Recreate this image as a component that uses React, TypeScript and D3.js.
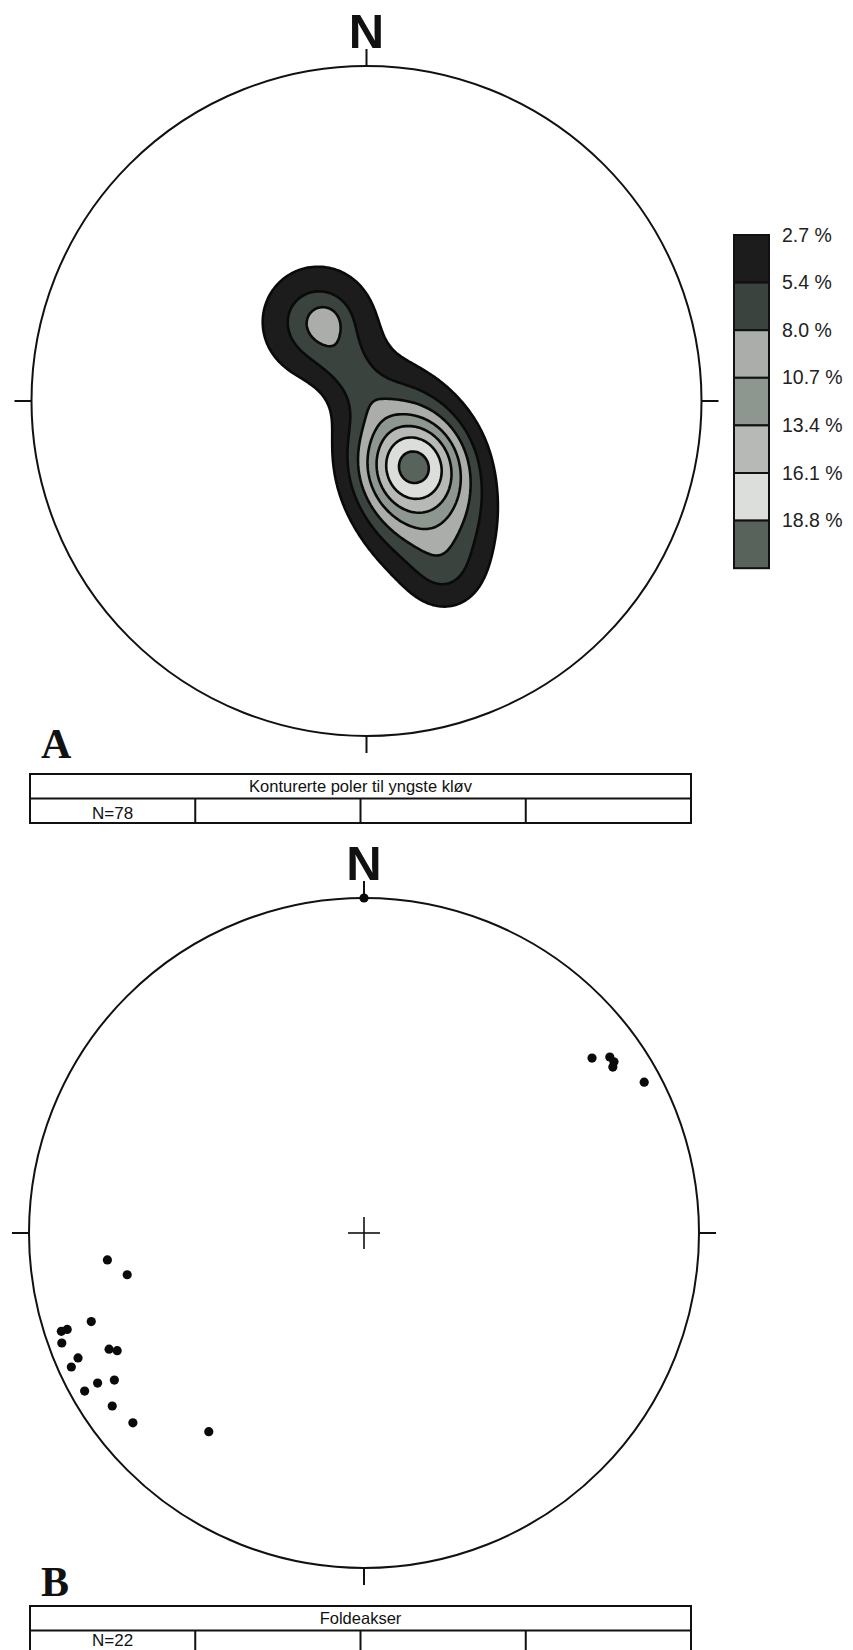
import React from 'react';
import * as d3 from 'd3';

const W = 853;
const H = 1650;

// ---- Diagram A: contoured poles (percentage levels) ----
const contourLevels = [2.7, 5.4, 8.0, 10.7, 13.4, 16.1, 18.8];
const levelLabels = ['2.7 %', '5.4 %', '8.0 %', '10.7 %', '13.4 %', '16.1 %', '18.8 %'];
const bandColors = ['#1c1c1c', '#3a433d', '#aaadaa', '#8e9690', '#b6b9b6', '#dcdedb', '#58635b'];

// density model components, net coordinates (east, north) in units of primitive radius
const compEast = [0.1418, 0.1478, -0.1448, -0.1239, -0.0493, 0.2343];
const compNorth = [-0.194, -0.2299, 0.2358, 0.2358, 0.0866, -0.5284];
const compAmp = [9, 11, 7, 2.6, 2.6, 2];
const compSigMajor = [0.0955, 0.2388, 0.1194, 0.0358, 0.1045, 0.0746];
const compSigMinor = [0.0955, 0.1493, 0.1194, 0.0358, 0.0537, 0.0746];
const compAzimuth = [0, 160, 0, 0, 145, 0];
const compShape = [1, 1.3, 1, 1, 1, 1];

const titleA = 'Konturerte poler til yngste kløv';
const countA = 'N=78';

// ---- Diagram B: fold axes (trend, plunge in degrees) ----
const foldTrend = [264, 260, 252, 252, 252, 250, 245.5, 244.5, 246.4, 245.4, 240.6, 239.5, 240.5, 235.5, 230.6, 218, 52.5, 54.4, 55.6, 56.3, 61.7, 0];
const foldPlunge = [24, 29, 15.5, 5.6, 7.6, 4.5, 17.5, 19.5, 7.6, 4.4, 9.6, 14.6, 4.7, 9.7, 11.7, 25.7, 15.3, 10.7, 10.5, 11.7, 5.6, 0];

const titleB = 'Foldeakser';
const countB = 'N=22';

const rad = Math.PI / 180;
function equalArea(trend: number, plunge: number): [number, number] {
  const r = Math.SQRT2 * Math.sin(((90 - plunge) / 2) * rad);
  return [r * Math.sin(trend * rad), r * Math.cos(trend * rad)];
}

function density(e: number, n: number): number {
  let s = 0;
  for (let k = 0; k < compAmp.length; k++) {
    const de = e - compEast[k];
    const dn = n - compNorth[k];
    const az = compAzimuth[k] * rad;
    const along = de * Math.sin(az) + dn * Math.cos(az);
    const perp = de * Math.cos(az) - dn * Math.sin(az);
    const q = (along * along) / (compSigMajor[k] ** 2) + (perp * perp) / (compSigMinor[k] ** 2);
    s += compAmp[k] * Math.exp(-0.5 * Math.pow(q, compShape[k]));
  }
  return s;
}

const R = 335;
const cxA = 366.5;
const cyA = 401;
const cxB = 364;
const cyB = 1233;
const tickLen = 17;

function Net({ cx, cy, cross }: { cx: number; cy: number; cross?: boolean }) {
  return (
    <g stroke="#111" fill="none">
      <circle cx={cx} cy={cy} r={R} strokeWidth={2} />
      <line x1={cx} x2={cx} y1={cy - R} y2={cy - R - tickLen} strokeWidth={2} />
      <line x1={cx} x2={cx} y1={cy + R} y2={cy + R + tickLen} strokeWidth={2} />
      <line x1={cx - R} x2={cx - R - tickLen} y1={cy} y2={cy} strokeWidth={2} />
      <line x1={cx + R} x2={cx + R + tickLen} y1={cy} y2={cy} strokeWidth={2} />
      {cross && (
        <>
          <line x1={cx - 16} x2={cx + 16} y1={cy} y2={cy} strokeWidth={1.6} />
          <line x1={cx} x2={cx} y1={cy - 16} y2={cy + 16} strokeWidth={1.6} />
        </>
      )}
      <text x={cx} y={cy - R - 18} textAnchor="middle" fontFamily="Liberation Sans, Arial, sans-serif" fontWeight="bold" fontSize={49} fill="#111" stroke="none">N</text>
    </g>
  );
}

function InfoTable({ y, title, count, countDy }: { y: number; title: string; count: string; countDy: number }) {
  const x0 = 30;
  const x1 = 691;
  const rowH = 24.5;
  const colW = (x1 - x0) / 4;
  return (
    <g>
      <rect x={x0} y={y} width={x1 - x0} height={rowH * 2} fill="none" stroke="#111" strokeWidth={2} />
      <line x1={x0} x2={x1} y1={y + rowH} y2={y + rowH} stroke="#111" strokeWidth={2} />
      {[1, 2, 3].map((k) => (
        <line key={k} x1={x0 + colW * k} x2={x0 + colW * k} y1={y + rowH} y2={y + rowH * 2} stroke="#111" strokeWidth={2} />
      ))}
      <text x={(x0 + x1) / 2} y={y + 18} textAnchor="middle" fontFamily="Liberation Sans, Arial, sans-serif" fontSize={16.5} fill="#111">{title}</text>
      <text x={x0 + colW / 2} y={y + countDy} textAnchor="middle" fontFamily="Liberation Sans, Arial, sans-serif" fontSize={17} fill="#111">{count}</text>
    </g>
  );
}

export default function App() {
  const n = 280;
  const values: number[] = new Array(n * n);
  for (let j = 0; j < n; j++) {
    for (let i = 0; i < n; i++) {
      const e = -1 + (2 * (i + 0.5)) / n;
      const no = 1 - (2 * (j + 0.5)) / n;
      values[j * n + i] = density(e, no);
    }
  }
  const contours = d3.contours().size([n, n]).thresholds(contourLevels)(values);
  const xNet = d3.scaleLinear().domain([-1, 1]).range([cxA - R, cxA + R]);
  const yNet = d3.scaleLinear().domain([-1, 1]).range([cyA + R, cyA - R]);
  const proj = d3.geoTransform({
    point(x: number, y: number) {
      (this as any).stream.point(xNet(-1 + (2 * x) / n), yNet(1 - (2 * y) / n));
    },
  });
  const path = d3.geoPath(proj);

  const xB = d3.scaleLinear().domain([-1, 1]).range([cxB - R, cxB + R]);
  const yB = d3.scaleLinear().domain([-1, 1]).range([cyB + R, cyB - R]);

  const legX = 734;
  const legTop = 235;
  const legCell = 47.6;
  const legW = 35;

  return (
    <svg width={W} height={H} style={{ position: 'absolute', left: 0, top: 0, background: '#fff' }}>
      <rect x={0} y={0} width={W} height={H} fill="#fff" />
      {/* Diagram A */}
      <g>
        {contours.map((c, k) => (
          <path key={k} d={path(c as any) || ''} fill={bandColors[k]} stroke="#0a0a0a" strokeWidth={2.6} strokeLinejoin="round" />
        ))}
      </g>
      <Net cx={cxA} cy={cyA} />
      {/* legend */}
      <g>
        {bandColors.map((col, k) => (
          <rect key={k} x={legX} y={legTop + k * legCell} width={legW} height={legCell} fill={col} stroke="#111" strokeWidth={2} />
        ))}
        {levelLabels.map((lab, k) => (
          <text key={k} x={782} y={legTop + k * legCell + 6.5} fontFamily="Liberation Sans, Arial, sans-serif" fontSize={19.5} fill="#222">{lab}</text>
        ))}
      </g>
      <text x={41} y={758} fontFamily="Liberation Serif, Times New Roman, serif" fontWeight="bold" fontSize={42} fill="#111">A</text>
      <InfoTable y={774} title={titleA} count={countA} countDy={45} />

      {/* Diagram B */}
      <Net cx={cxB} cy={cyB} cross />
      <g>
        {foldTrend.map((t, k) => {
          const [e, no] = equalArea(t, foldPlunge[k]);
          return <circle key={k} cx={xB(e)} cy={yB(no)} r={4.6} fill="#0a0a0a" />;
        })}
      </g>
      <text x={41} y={1596} fontFamily="Liberation Serif, Times New Roman, serif" fontWeight="bold" fontSize={42} fill="#111">B</text>
      <InfoTable y={1606} title={titleB} count={countB} countDy={40} />
    </svg>
  );
}
